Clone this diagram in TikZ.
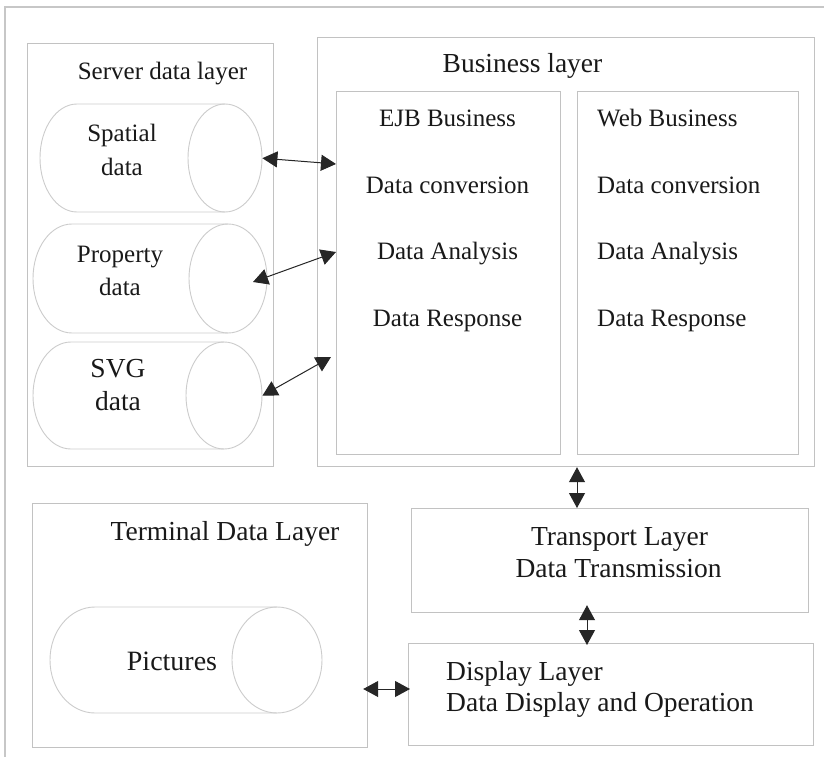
\documentclass[tikz,border=0pt]{standalone}
\usepackage{fontspec}
\setmainfont{Liberation Serif}
\usetikzlibrary{arrows.meta}

% horizontal data store: #1 name, #2 left x, #3 right x, #4 top y, #5 bottom y, #6 end radius
\newcommand\drumnode[6]{%
  \draw[drumline] ({#3-#6},#4) -- ({#2+#6},#4)
    arc[start angle=90, end angle=270, x radius=#6pt, y radius={(#5-#4)/2*1pt}]
    -- ({#3-#6},#5);
  \draw[drumline] ({#3-#6},{(#4+#5)/2}) ellipse[x radius=#6pt, y radius={(#5-#4)/2*1pt}];
  \node[inner sep=0pt, anchor=north west,
        minimum width={(#3-#2)*1pt}, minimum height={(#5-#4)*1pt}] (#1) at (#2,#4) {};
}

\begin{document}
\begin{tikzpicture}[x=1pt, y=-1pt,
  frame/.style={draw=black!22, line width=1.2pt},
  layerbox/.style={draw=black!24, line width=1.2pt, inner sep=0pt, anchor=north west},
  drumline/.style={draw=black!20, line width=0.9pt},
  lbl/.style={inner sep=0pt, anchor=base, text=black!90, font=\fontsize{25}{30}\selectfont},
  biglbl/.style={lbl, font=\fontsize{27.5}{33}\selectfont},
  tipshape/.style={},
  link/.style={{Triangle[length=15pt,width=16pt]}-{Triangle[length=15pt,width=16pt]},
               line width=1pt, draw=black!85}
]
\useasboundingbox (0,0) rectangle (824,757);
\fill[white] (0,0) rectangle (824,757);

% outer frame
\draw[frame] (824,7) -- (5,7) -- (5,757);

% layer boxes
\node[layerbox, minimum width=246pt, minimum height=423pt] (server) at (27,43) {};
\node[layerbox, minimum width=497pt, minimum height=429pt] (business) at (317,37) {};
\node[layerbox, minimum width=224pt, minimum height=363pt] (ejb) at (336,91) {};
\node[layerbox, minimum width=221pt, minimum height=363pt] (web) at (577,91) {};
\node[layerbox, minimum width=335pt, minimum height=244pt] (terminal) at (32,503) {};
\node[layerbox, minimum width=397pt, minimum height=104pt] (transport) at (411,508) {};
\node[layerbox, minimum width=405pt, minimum height=102pt] (display) at (408,643) {};

% data stores
\drumnode{spatial}{40}{262}{104}{212}{37}
\drumnode{property}{33}{267}{224}{333}{39}
\drumnode{svg}{33}{262}{342}{449}{38}
\drumnode{pictures}{50}{322}{607}{713}{45}

% titles
\node[lbl] (serverlbl) at (162.5,80) {Server data layer};
\node[biglbl] (businesslbl) at (522.5,73) {Business layer};
\node[biglbl] (terminallbl) at (225,540) {Terminal Data Layer};

% store labels
\node[lbl] (spatiallbl) at (122,142) {Spatial};
\node[lbl] (spatiallblb) at (122,175) {data};
\node[lbl] (propertylbl) at (120,262) {Property};
\node[lbl] (propertylblb) at (120,295) {data};
\node[biglbl] (svglbl) at (118,377) {SVG};
\node[biglbl] (svglblb) at (118,410) {data};
\node[lbl, font=\fontsize{28}{34}\selectfont] (pictureslbl) at (172,670) {Pictures};

% EJB column
\node[lbl] (ejb1) at (447.5,127) {EJB Business};
\node[lbl] (ejb2) at (447.5,193) {Data conversion};
\node[lbl] (ejb3) at (447.5,259) {Data Analysis};
\node[lbl] (ejb4) at (447.5,326) {Data Response};

% Web column
\node[lbl, anchor=base west] (web1) at (597,127) {Web Business};
\node[lbl, anchor=base west] (web2) at (597,193) {Data conversion};
\node[lbl, anchor=base west] (web3) at (597,259) {Data Analysis};
\node[lbl, anchor=base west] (web4) at (597,326) {Data Response};

% transport and display texts
\node[biglbl] (transport1) at (619.5,545) {Transport Layer};
\node[biglbl] (transport2) at (618.5,577) {Data Transmission};
\node[biglbl, anchor=base west] (display1) at (446,680) {Display Layer};
\node[biglbl, anchor=base west] (display2) at (446,711) {Data Display and Operation};

% connector ends
\coordinate (proptip) at (253,282);
\coordinate (svgend) at (331,357);

% connectors
\draw[link] (spatial.east) -- (ejb.west |- 0,164);
\draw[link] (proptip) -- (ejb.west |- 0,252);
\draw[link] (svg.east) -- (svgend);
\draw[link] (577,0 |- business.south) -- (577,0 |- transport.north);
\draw[link, shorten <=-8pt, shorten >=-2pt] (587,0 |- transport.south) -- (587,0 |- display.north);
\draw[link, shorten <=-5pt, shorten >=-2pt] (terminal.east |- 0,689) -- (display.west |- 0,689);
\end{tikzpicture}
\end{document}
